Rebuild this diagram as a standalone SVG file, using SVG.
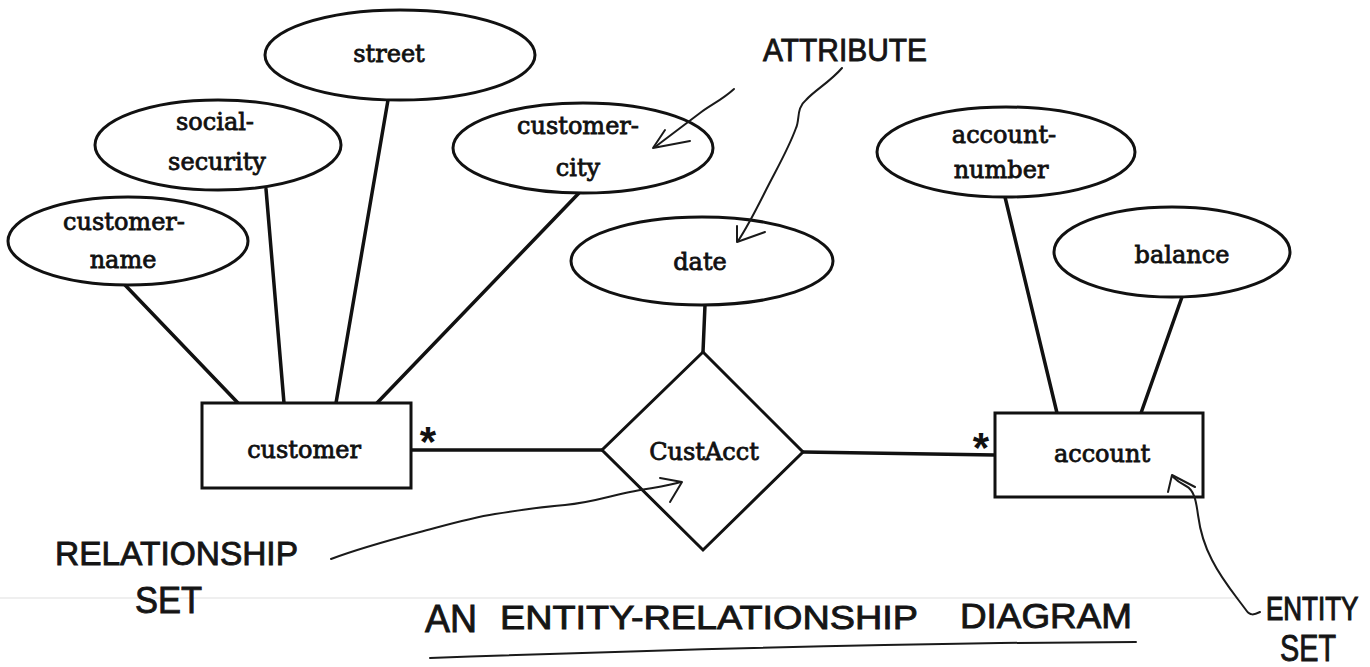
<svg xmlns="http://www.w3.org/2000/svg" width="1370" height="667" viewBox="0 0 1370 667">
  <style>
    .shape { fill: #fff; stroke: #111; stroke-width: 3; }
    .link { fill: none; stroke: #111; stroke-width: 3.5; stroke-linecap: round; }
    .lbl { font-family: "DejaVu Serif", "Liberation Serif", serif; font-size: 24px; fill: #111; stroke: #111; stroke-width: 0.8; text-anchor: middle; }
    .star { font-family: "Liberation Sans", sans-serif; font-size: 42px; font-weight: bold; fill: #111; text-anchor: middle; }
    .hand { font-family: "Liberation Sans", "DejaVu Sans", sans-serif; fill: #151515; stroke: #151515; stroke-width: 0.9; }
    .note { fill: none; stroke: #1a1a1a; stroke-width: 2; stroke-linecap: round; stroke-linejoin: round; }
  </style>

  <rect width="1370" height="667" fill="#fff"/>
  <!-- faint fold line across the sheet -->
  <line x1="0" y1="598" x2="1240" y2="598" stroke="#efefef" stroke-width="2"/>

  <!-- connectors -->
  <g id="connectors">
    <line class="link" x1="125" y1="285" x2="238" y2="403"/>
    <line class="link" x1="266" y1="189" x2="284" y2="403"/>
    <line class="link" x1="388" y1="100" x2="336" y2="403"/>
    <line class="link" x1="579" y1="193" x2="377" y2="403"/>
    <line class="link" x1="705" y1="305" x2="703" y2="352"/>
    <line class="link" x1="411" y1="450" x2="602" y2="450"/>
    <line class="link" x1="803" y1="452" x2="995" y2="455"/>
    <line class="link" x1="1005" y1="197" x2="1057" y2="413"/>
    <line class="link" x1="1182" y1="297" x2="1141" y2="413"/>
    <text class="star" x="428" y="456">*</text>
    <text class="star" x="981" y="462">*</text>
  </g>

  <!-- attribute ellipses -->
  <g id="attr-street">
    <ellipse class="shape" cx="400" cy="55" rx="135" ry="45"/>
    <text class="lbl" x="389" y="62">street</text>
  </g>
  <g id="attr-social-security">
    <ellipse class="shape" cx="218" cy="145" rx="123" ry="45"/>
    <text class="lbl" x="215" y="130">social-</text>
    <text class="lbl" x="217" y="170">security</text>
  </g>
  <g id="attr-customer-name">
    <ellipse class="shape" cx="128" cy="241" rx="120" ry="44"/>
    <text class="lbl" x="124" y="230">customer-</text>
    <text class="lbl" x="123" y="268">name</text>
  </g>
  <g id="attr-customer-city">
    <ellipse class="shape" cx="583" cy="148" rx="130" ry="45"/>
    <text class="lbl" x="578" y="134">customer-</text>
    <text class="lbl" x="578" y="176">city</text>
  </g>
  <g id="attr-date">
    <ellipse class="shape" cx="702" cy="261" rx="131" ry="44"/>
    <text class="lbl" x="700" y="270">date</text>
  </g>
  <g id="attr-account-number">
    <ellipse class="shape" cx="1006" cy="152" rx="129" ry="45"/>
    <text class="lbl" x="1004" y="143">account-</text>
    <text class="lbl" x="1001" y="178">number</text>
  </g>
  <g id="attr-balance">
    <ellipse class="shape" cx="1172" cy="252" rx="118" ry="45"/>
    <text class="lbl" x="1182" y="263">balance</text>
  </g>

  <!-- entity sets -->
  <g id="entity-customer">
    <rect class="shape" x="202" y="403" width="209" height="85"/>
    <text class="lbl" x="304" y="458">customer</text>
  </g>
  <g id="entity-account">
    <rect class="shape" x="995" y="413" width="208" height="84"/>
    <text class="lbl" x="1102" y="462">account</text>
  </g>

  <!-- relationship set -->
  <g id="rel-custacct">
    <polygon class="shape" points="703,352 803,452 703,550 602,450"/>
    <text class="lbl" x="704" y="460">CustAcct</text>
  </g>

  <!-- hand-written notes -->
  <g id="note-attribute">
    <text class="hand" x="763" y="61" font-size="32" textLength="164" lengthAdjust="spacingAndGlyphs">ATTRIBUTE</text>
    <path class="note" d="M734 89 C722 100 712 104 700 113 C688 122 672 134 655 147"/>
    <path class="note" d="M665 130 L653 148 L690 141"/>
    <path class="note" d="M842 68 C830 82 815 90 806 100 C796 108 800 120 796 128 C788 150 776 170 766 190 C756 210 748 226 738 241"/>
    <path class="note" d="M737 226 L737 242 L765 232"/>
  </g>
  <g id="note-relationship">
    <text class="hand" x="55" y="565" font-size="34" textLength="243" lengthAdjust="spacingAndGlyphs">RELATIONSHIP</text>
    <text class="hand" x="135" y="613" font-size="36" textLength="67" lengthAdjust="spacingAndGlyphs">SET</text>
    <path class="note" d="M331 559 C360 548 390 540 420 532 C450 524 470 518 495 514 C520 510 540 507 565 505 C590 503 610 496 630 492 C650 488 668 486 681 482"/>
    <path class="note" d="M660 478 L682 482 L670 502"/>
  </g>
  <g id="note-entity">
    <text class="hand" transform="translate(1266 620) scale(1 1.3)" x="0" y="0" font-size="26">ENTITY</text>
    <text class="hand" x="1280" y="661" font-size="36" textLength="56" lengthAdjust="spacingAndGlyphs">SET</text>
    <path class="note" d="M1260 612 C1254 615 1250 616 1246 610 C1235 595 1222 580 1212 560 C1204 545 1200 530 1198 515 C1196 500 1194 490 1186 486 C1182 484 1176 480 1172 476"/>
    <path class="note" d="M1168 492 L1172 475 L1195 487"/>
  </g>

  <!-- title -->
  <g id="title">
    <text class="hand" x="425" y="632" font-size="38" textLength="52" lengthAdjust="spacingAndGlyphs">AN</text>
    <text class="hand" x="500" y="629" font-size="34" textLength="418" lengthAdjust="spacingAndGlyphs">ENTITY-RELATIONSHIP</text>
    <text class="hand" x="960" y="628" font-size="35" textLength="172" lengthAdjust="spacingAndGlyphs">DIAGRAM</text>
    <path class="note" d="M430 658 C600 652 800 646 1000 643 L1136 642" stroke-width="3"/>
  </g>
</svg>
